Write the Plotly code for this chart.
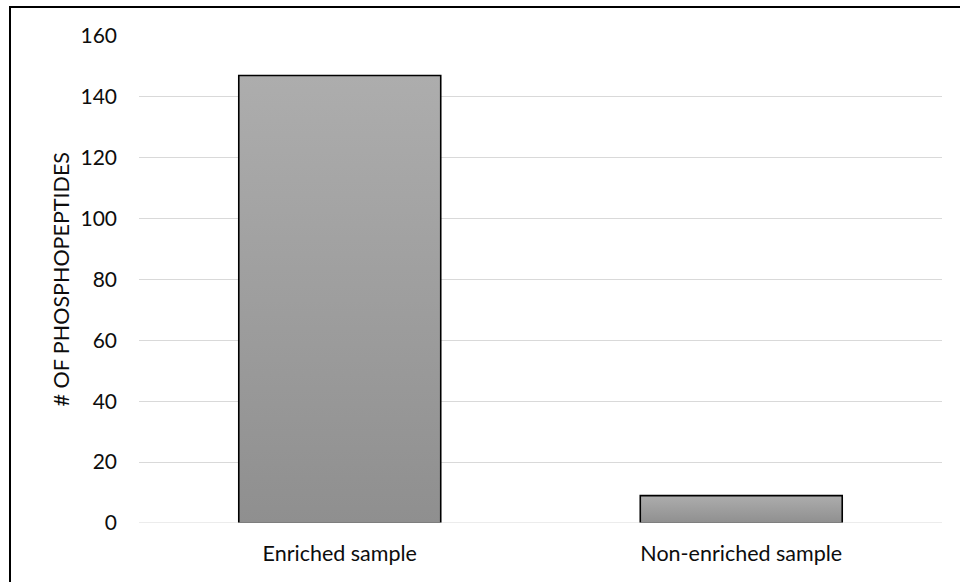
import plotly.graph_objects as go

# Phosphopeptide counts per sample
categories = ["Enriched sample", "Non-enriched sample"]
counts = [147, 9]
y_ticks = [0, 20, 40, 60, 80, 100, 120, 140, 160]

W, H = 960, 582
M_L, M_R, M_T, M_B = 139, 18, 36, 59
plot_w = W - M_L - M_R
plot_h = H - M_T - M_B

bar_width = 0.503
font_family = "Lato, 'Open Sans', sans-serif"

fig = go.Figure()
for i, (cat, val) in enumerate(zip(categories, counts)):
    x0, x1 = i - bar_width / 2, i + bar_width / 2
    fig.add_trace(go.Scatter(
        x=[x0, x0, x1, x1, x0],
        y=[0, val, val, 0, 0],
        mode="lines",
        fill="toself",
        fillgradient=dict(
            type="vertical",
            colorscale=[[0, "#8f8f8f"], [1, "#adadad"]],
        ),
        line=dict(color="#000000", width=1.6),
        name=cat,
        hoverinfo="skip",
        showlegend=False,
    ))

fig.update_layout(
    width=W,
    height=H,
    margin=dict(l=M_L, r=M_R, t=M_T, b=M_B, autoexpand=False),
    paper_bgcolor="white",
    plot_bgcolor="white",
    font=dict(family=font_family, color="#0d0d0d", size=21),
    xaxis=dict(
        range=[-0.5, 1.5],
        tickvals=list(range(len(categories))),
        ticktext=categories,
        tickfont=dict(size=21.5),
        showgrid=False,
        zeroline=False,
        showline=False,
        ticks="",
        ticklabelstandoff=15,
        fixedrange=True,
    ),
    yaxis=dict(
        range=[0, 160],
        tickvals=y_ticks,
        showgrid=True,
        gridcolor="#d9d9d9",
        gridwidth=1,
        zeroline=False,
        showline=False,
        ticks="",
        ticklabelstandoff=21,
        fixedrange=True,
    ),
    shapes=[
        # horizontal axis line drawn over the bar bases
        dict(type="line", xref="paper", yref="y", x0=0, x1=1, y0=0, y1=0,
             line=dict(color="#d9d9d9", width=1.2), layer="above"),
        # chart frame
        dict(type="rect", xref="paper", yref="paper",
             x0=(10 - M_L) / plot_w, x1=(W + 20 - M_L) / plot_w,
             y0=(M_T + plot_h - (H + 20)) / plot_h, y1=(M_T + plot_h - 7) / plot_h,
             line=dict(color="#000000", width=2), layer="above"),
    ],
    annotations=[
        dict(text="# OF PHOSPHOPEPTIDES", textangle=-90,
             xref="paper", yref="paper",
             x=(60 - M_L) / plot_w, y=0.5,
             xanchor="center", yanchor="middle",
             showarrow=False, font=dict(size=21.5, family=font_family, color="#0d0d0d")),
    ],
)

fig.write_html("out.html")
